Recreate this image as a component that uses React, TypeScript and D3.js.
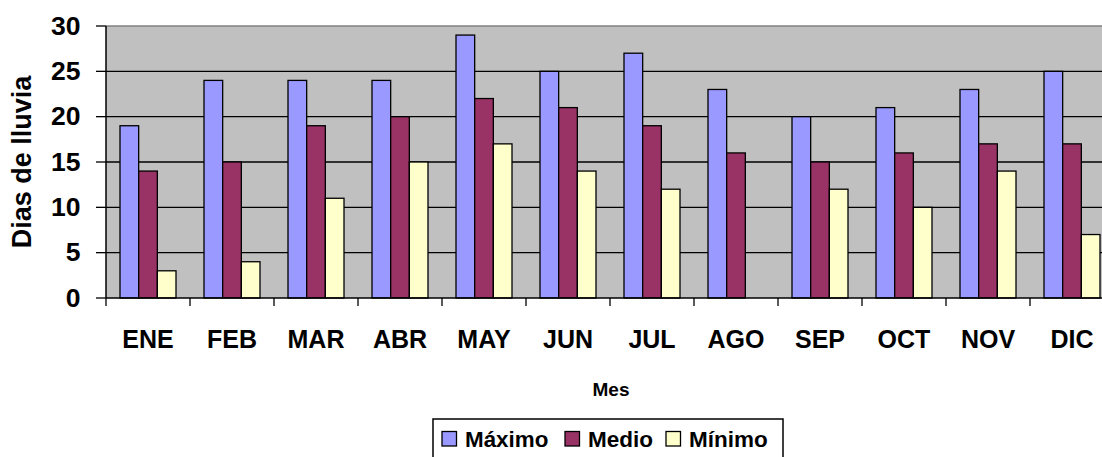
import React from "react";
import * as d3 from "d3";

const months = ["ENE", "FEB", "MAR", "ABR", "MAY", "JUN", "JUL", "AGO", "SEP", "OCT", "NOV", "DIC"];
const maximo = [19, 24, 24, 24, 29, 25, 27, 23, 20, 21, 23, 25];
const medio = [14, 15, 19, 20, 22, 21, 19, 16, 15, 16, 17, 17];
const minimo = [3, 4, 11, 15, 17, 14, 12, 0, 12, 10, 14, 7];
const seriesNames = ["Máximo", "Medio", "Mínimo"];
const seriesColors = ["#9999FF", "#993366", "#FFFFCC"];
const yTicks = [0, 5, 10, 15, 20, 25, 30];

const W = 1102;
const H = 457;
const left = 106;
const top = 26;
const bottom = 298;
const step = 84;
const right = left + step * months.length;
const font = "'Liberation Sans', Arial, sans-serif";

export default function App() {
  const series = [maximo, medio, minimo];
  const x = d3.scaleBand<string>().domain(months).range([left, right]).paddingInner(0).paddingOuter(0);
  const y = d3.scaleLinear().domain([0, 30]).range([bottom, top]);
  const bw = x.bandwidth() / 4.5;
  const groupOffset = (x.bandwidth() - 3 * bw) / 2;
  const legendX = [442, 565, 666];
  const legendW = [83.4, 65, 78.7];

  return (
    <svg width={W} height={H} style={{ position: "absolute", left: 0, top: 0 }} fontFamily={font}>
      <rect x={0} y={0} width={W} height={H} fill="#fff" />
      <rect x={left} y={top} width={right - left} height={bottom - top} fill="#C0C0C0" />
      <line x1={left} x2={right} y1={top} y2={top} stroke="#808080" strokeWidth={1.5} />
      {yTicks.slice(1, -1).map((t) => (
        <line key={t} x1={left} x2={right} y1={y(t)} y2={y(t)} stroke="#000" strokeWidth={1.3} />
      ))}
      {series.map((vals, si) =>
        vals.map((v, i) =>
          v > 0 ? (
            <rect
              key={`${si}-${i}`}
              x={(x(months[i]) as number) + groupOffset + si * bw}
              y={y(v)}
              width={bw}
              height={y(0) - y(v)}
              fill={seriesColors[si]}
              stroke="#000"
              strokeWidth={1.3}
            />
          ) : null
        )
      )}
      <line x1={left} x2={left} y1={top} y2={bottom} stroke="#000" strokeWidth={1.5} />
      <line x1={left} x2={right} y1={bottom} y2={bottom} stroke="#000" strokeWidth={1.5} />
      {yTicks.map((t) => (
        <g key={t}>
          <line x1={left - 10} x2={left} y1={y(t)} y2={y(t)} stroke="#000" strokeWidth={1.3} />
          <text x={80.5} y={y(t) + 8.5} textAnchor="end" fontSize={26.5} fontWeight="bold">
            {t}
          </text>
        </g>
      ))}
      {months.map((m, i) => (
        <g key={m}>
          <line x1={left + i * step} x2={left + i * step} y1={bottom} y2={bottom + 8} stroke="#000" strokeWidth={1.3} />
          <text x={(x(m) as number) + x.bandwidth() / 2} y={348} textAnchor="middle" fontSize={25} fontWeight="bold">
            {m}
          </text>
        </g>
      ))}
      <line x1={right} x2={right} y1={bottom} y2={bottom + 8} stroke="#000" strokeWidth={1.3} />
      <text x={611} y={396} textAnchor="middle" fontSize={19} fontWeight="bold">
        Mes
      </text>
      <text transform={`translate(31,162) rotate(-90)`} textAnchor="middle" fontSize={27} fontWeight="bold">
        Dias de lluvia
      </text>
      <rect x={433} y={419} width={350} height={50} fill="#fff" stroke="#000" strokeWidth={1.5} />
      {seriesNames.map((n, i) => {
        const lx = legendX[i];
        return (
          <g key={n}>
            <rect x={lx} y={431.5} width={14.5} height={14.5} fill={seriesColors[i]} stroke="#000" strokeWidth={1.3} />
            <text
              x={lx + 23}
              y={446.5}
              fontSize={21.5}
              fontWeight="bold"
              textLength={legendW[i]}
              lengthAdjust="spacingAndGlyphs"
            >
              {n}
            </text>
          </g>
        );
      })}
    </svg>
  );
}
